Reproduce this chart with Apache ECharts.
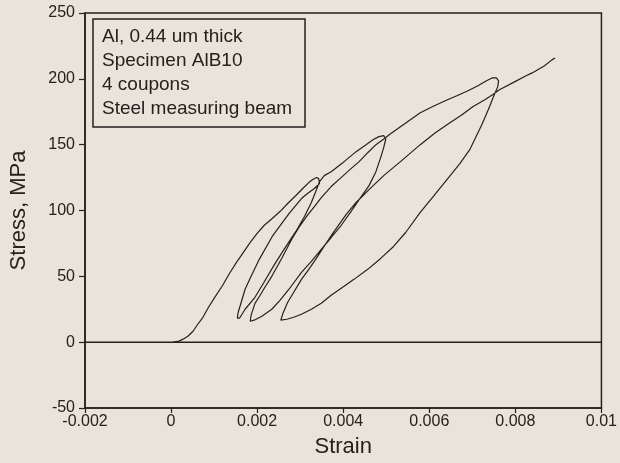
<!DOCTYPE html>
<html>
<head>
<meta charset="utf-8">
<script src="https://cdn.jsdelivr.net/npm/echarts@6/dist/echarts.min.js"></script>
<style>
  html, body { margin: 0; padding: 0; background: #e9e3d9; }
  #chart { width: 620px; height: 463px; }
</style>
</head>
<body>
<div id="chart"></div>
<script>
// strain / stress (MPa) pairs, in the order the test ran
var loadUp = [[0.00005, 0], [0.00018, 0.8], [0.00028, 2.3], [0.00039, 4.5], [0.00051, 8.3], [0.00062, 13.6],
  [0.00074, 18.9], [0.00087, 26.5], [0.00103, 34.8], [0.0012, 43.2], [0.00136, 52.3], [0.00152, 60.6],
  [0.00168, 68.2], [0.00184, 75.8], [0.002, 82.6], [0.00216, 88.6], [0.00235, 93.9], [0.00253, 99.2],
  [0.00271, 105.3], [0.0029, 111.4], [0.00306, 116.7], [0.0032, 121.2], [0.00329, 123.5], [0.00338, 125.0],
  [0.00343, 124.2]];
var unload1 = [[0.00345, 120.5], [0.00333, 116.7], [0.00317, 112.9], [0.00303, 109.1], [0.00274, 97.7],
  [0.00235, 80.3], [0.00205, 62.9], [0.00186, 50.0], [0.00172, 40.2], [0.00163, 30.3], [0.00156, 22.7],
  [0.00154, 18.2]];
var reload1 = [[0.00159, 18.2], [0.00172, 25.0], [0.00195, 34.1], [0.00216, 45.5], [0.00239, 58.3],
  [0.00264, 71.2], [0.0029, 84.1], [0.0031, 95.5], [0.00326, 106.1], [0.00338, 115.9], [0.00345, 122.0],
  [0.00356, 126.5], [0.00372, 129.5], [0.00402, 137.1], [0.0043, 144.7], [0.00453, 150.0], [0.00469, 153.8],
  [0.00483, 156.1], [0.00494, 156.8]];
var unload2 = [[0.00499, 154.5], [0.00494, 147.7], [0.00487, 140.2], [0.00476, 129.5], [0.0046, 118.9],
  [0.00437, 108.3], [0.00418, 99.2], [0.00395, 88.6], [0.00372, 79.5], [0.00349, 70.5], [0.00326, 61.4],
  [0.00303, 53.0], [0.00274, 40.2], [0.00253, 31.8], [0.00234, 25.0], [0.00211, 19.7], [0.00193, 16.7],
  [0.00184, 15.9]];
var reload2 = [[0.00182, 16.7], [0.00186, 20.5], [0.00195, 29.5], [0.00207, 35.6], [0.00218, 41.7],
  [0.00234, 50.0], [0.00257, 63.6], [0.0028, 78.0], [0.00297, 87.1], [0.00315, 95.5], [0.00333, 103.0],
  [0.00349, 109.8], [0.00372, 118.2], [0.00395, 125.0], [0.00418, 131.8], [0.00437, 137.1], [0.00457, 143.9],
  [0.00476, 150.0], [0.00492, 153.8], [0.0051, 158.3], [0.00533, 163.6], [0.00556, 168.9], [0.00579, 174.2],
  [0.00607, 178.8], [0.00637, 183.3], [0.00664, 187.1], [0.0069, 190.9], [0.00713, 194.7], [0.00733, 198.5],
  [0.00747, 200.8], [0.00756, 200.8]];
var unload3 = [[0.00761, 198.5], [0.00759, 193.9], [0.00749, 186.4], [0.0074, 178.8], [0.00722, 165.2],
  [0.00694, 146.2], [0.00671, 135.6], [0.00641, 123.5], [0.00609, 110.6], [0.00579, 98.5], [0.00545, 83.3],
  [0.00517, 72.7], [0.00487, 63.6], [0.00457, 55.3], [0.00425, 47.7], [0.00402, 42.4], [0.00372, 35.6],
  [0.00349, 29.5], [0.00326, 25.0], [0.00303, 21.2], [0.00285, 18.9], [0.00269, 17.4], [0.00255, 16.7]];
var reload3 = [[0.00253, 16.7], [0.0026, 22.0], [0.00271, 30.3], [0.00285, 37.9], [0.00303, 47.7],
  [0.0032, 55.3], [0.00336, 62.9], [0.00354, 72.0], [0.00379, 84.1], [0.00407, 97.0], [0.0043, 106.1],
  [0.0046, 115.9], [0.00494, 126.5], [0.00533, 137.1], [0.00579, 150.0], [0.00614, 159.1], [0.00648, 166.7],
  [0.00676, 172.7], [0.00701, 178.8], [0.00729, 184.1], [0.00747, 187.9], [0.00763, 191.7], [0.00798, 197.7],
  [0.00825, 202.3], [0.00839, 204.5], [0.00867, 209.8], [0.00885, 214.4], [0.00892, 215.9]];

// zero-stress reference line across the whole plot
var zeroLine = [[-0.002, 0], [0.01, 0]];

var xTicks = { min: -0.002, max: 0.01, step: 0.002 };
var yTicks = { min: -50, max: 250, step: 50 };
var noteLines = ["Al, 0.44 um thick", "Specimen AlB10", "4 coupons", "Steel measuring beam"];

var curve = [].concat(loadUp, unload1, reload1, unload2, reload2, unload3, reload3);

var ink = "#25211e";
var font = "'Liberation Sans', Arial, sans-serif";

var machart = echarts.init(document.getElementById("chart"));
var option = {
  backgroundColor: "#e9e3d9",
  animation: false,
  grid: {
    left: 82,
    right: 17,
    top: 13,
    bottom: 54,
    show: true,
    borderColor: ink,
    borderWidth: 1.5,
  },
  // note box in the upper left corner
  title: {
    text: noteLines.join("\n"),
    left: 93,
    top: 19,
    padding: [6, 13, 6, 9],
    borderColor: ink,
    borderWidth: 1.5,
    textStyle: {
      fontFamily: font,
      fontSize: 19,
      fontWeight: "normal",
      color: ink,
      lineHeight: 24,
    },
  },
  xAxis: {
    type: "value",
    min: xTicks.min,
    max: xTicks.max,
    interval: xTicks.step,
    name: "Strain",
    nameLocation: "middle",
    nameGap: 28,
    nameTextStyle: { fontFamily: font, fontSize: 22, color: ink },
    axisLine: { onZero: false, lineStyle: { color: ink, width: 1.5 } },
    axisTick: { inside: false, length: 5, lineStyle: { color: ink, width: 1.2 } },
    axisLabel: { margin: 6, fontFamily: font, fontSize: 16, color: ink },
    splitLine: { show: false },
  },
  yAxis: {
    type: "value",
    min: yTicks.min,
    max: yTicks.max,
    interval: yTicks.step,
    name: "Stress, MPa",
    nameLocation: "middle",
    nameGap: 55,
    nameTextStyle: { fontFamily: font, fontSize: 22, color: ink },
    axisLine: { onZero: false, lineStyle: { color: ink, width: 1.5 } },
    axisTick: { inside: false, length: 6, lineStyle: { color: ink, width: 1.2 } },
    axisLabel: { margin: 10, fontFamily: font, fontSize: 16, color: ink },
    splitLine: { show: false },
  },
  series: [
    {
      type: "line",
      data: zeroLine,
      showSymbol: false,
      silent: true,
      lineStyle: { color: ink, width: 1.5 },
    },
    {
      type: "line",
      data: curve,
      showSymbol: false,
      smooth: false,
      lineStyle: { color: ink, width: 1.2 },
    },
  ],
};
machart.setOption(option);
</script>
</body>
</html>
